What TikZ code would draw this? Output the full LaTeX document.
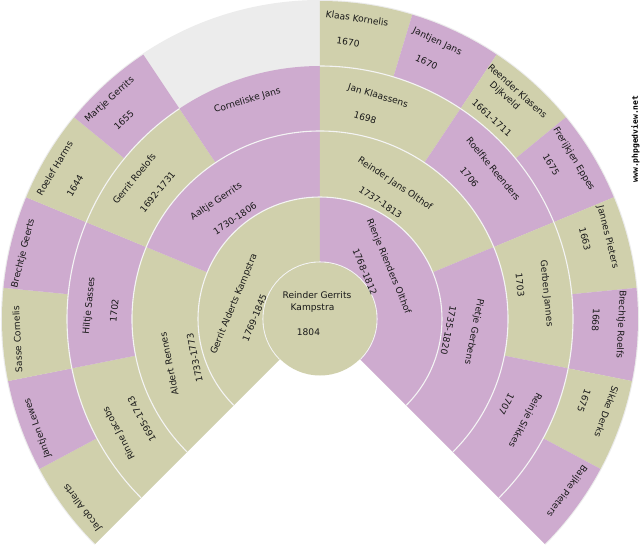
\documentclass[tikz,border=0pt]{standalone}
\usepackage{fontspec}
\setmainfont{DejaVu Sans}
\newfontfamily\sitefont{DejaVu Sans Mono}[Scale=1]
\definecolor{male}{HTML}{D0D0AC}
\definecolor{female}{HTML}{CEABCF}
\definecolor{blank}{HTML}{ECECEC}
\definecolor{seam}{HTML}{F4F4F4}
\tikzset{
  lbl/.style={inner sep=0pt,text height=6.5pt,text depth=1.5pt,anchor=center,font=\fontsize{9.1}{10}\selectfont,text=black!90},
  sitelbl/.style={inner sep=0pt,anchor=center,rotate=90,font=\sitefont\bfseries\fontsize{8}{9}\selectfont,text=black},
  seamline/.style={draw=seam,line width=1.1pt,fill=none}
}
\newcommand{\sect}[5]{\fill[#5] (#1:#3pt) arc[start angle=#1,end angle=#2,radius=#3pt] -- (#2:#4pt) arc[start angle=#2,end angle=#1,radius=#4pt] -- cycle;}
% id, cell angle, radial, tangential, text
\newcommand{\txt}[5]{\node[lbl,rotate=#2-90] (#1) at ([shift={(#2:#3pt)}]#2-90:#4pt) {#5};}
\newcommand{\seam}[3]{\draw[seamline] (#1:#3pt) arc[start angle=#1,end angle=#2,radius=#3pt];}
\begin{document}
\begin{tikzpicture}
\useasboundingbox (-320pt,-231pt) rectangle (320pt,319pt);
\fill[white] (-320pt,-231pt) rectangle (320pt,319pt);
% grey backing
\sect{-45}{225}{0}{319}{blank}
% generation 4
\sect{225}{208.125}{253}{318}{male}
\sect{208.125}{191.25}{253}{318}{female}
\sect{191.25}{174.375}{253}{318}{male}
\sect{174.375}{157.5}{253}{318}{female}
\sect{157.5}{140.625}{253}{318}{male}
\sect{140.625}{123.75}{253}{318}{female}
\sect{90}{73.125}{253}{318}{male}
\sect{73.125}{56.25}{253}{318}{female}
\sect{56.25}{39.375}{253}{318}{male}
\sect{39.375}{22.5}{253}{318}{female}
\sect{22.5}{5.625}{253}{318}{male}
\sect{5.625}{-11.25}{253}{318}{female}
\sect{-11.25}{-28.125}{253}{318}{male}
\sect{-28.125}{-45}{253}{318}{female}
% generation 3
\sect{225}{191.25}{188}{253}{male}
\sect{191.25}{157.5}{188}{253}{female}
\sect{157.5}{123.75}{188}{253}{male}
\sect{123.75}{90}{188}{253}{female}
\sect{90}{56.25}{188}{253}{male}
\sect{56.25}{22.5}{188}{253}{female}
\sect{22.5}{-11.25}{188}{253}{male}
\sect{-11.25}{-45}{188}{253}{female}
% generation 2
\sect{225}{157.5}{122}{188}{male}
\sect{157.5}{90}{122}{188}{female}
\sect{90}{22.5}{122}{188}{male}
\sect{22.5}{-45}{122}{188}{female}
% generation 1
\sect{225}{90}{56}{122}{male}
\sect{90}{-45}{56}{122}{female}
% seams
\seam{-45}{225}{57}
\seam{-45}{225}{122}
\seam{-45}{225}{188}
\seam{-45}{90}{253}
\seam{123.75}{225}{253}
% centre
\fill[male] (0pt,0pt) circle[radius=56.5pt];
% centre text
\node[lbl] (p1a) at (-3pt,23pt) {Reinder Gerrits};
\node[lbl] (p1b) at (-7.5pt,11pt) {Kampstra};
\node[lbl] (p1c) at (-11.5pt,-14pt) {1804};
% gen 1
\txt{f}{157.5}{85}{-19}{Gerrit Alderts Kampstra}
\txt{fd}{157.5}{60}{-24}{1769-1845}
\txt{m}{22.5}{83.4}{-22.3}{Rienje Rienders Olthof}
\txt{md}{22.5}{58.7}{-26.5}{1768-1812}
% gen 2
\txt{ff}{191.25}{155.9}{-14.6}{Aldert Rennes}
\txt{ffd}{191.25}{129.7}{-13.8}{1733-1773}
\txt{fm}{123.75}{155.2}{-21}{Aaltje Gerrits}
\txt{fmd}{123.75}{130}{-14.9}{1730-1806}
\txt{mf}{56.25}{154}{-12.7}{Reinder Jans Olthof}
\txt{mfd}{56.25}{130}{-14.6}{1737-1813}
\txt{mm}{-11.25}{153.4}{-17.5}{Pietje Gerbens}
\txt{mmd}{-11.25}{127.5}{-14.1}{1735-1820}
% gen 3
\txt{a1}{208.125}{230.9}{-6.2}{Rinne Jacobs}
\txt{a1d}{208.125}{203.6}{-4.3}{1695-1743}
\txt{a2}{174.375}{230.9}{-9.4}{Hiltje Sasses}
\txt{a2d}{174.375}{204.8}{-11.8}{1702}
\txt{a3}{140.625}{231.8}{-9.4}{Gerrit Roelofs}
\txt{a3d}{140.625}{205.3}{-4.9}{1692-1731}
\txt{a4}{106.875}{230.1}{-6}{Corneliske Jans}
\txt{a5}{73.125}{230}{-9.2}{Jan Klaassens}
\txt{a5d}{73.125}{205}{-15.3}{1698}
\txt{a6}{39.375}{228.5}{-5.9}{Roelfke Reenders}
\txt{a6d}{39.375}{204.7}{-15}{1706}
\txt{a7}{5.625}{227.7}{-3.3}{Gerben Jannes}
\txt{a7d}{5.625}{201.6}{-14.3}{1703}
\txt{a8}{-28.125}{228.4}{-7.5}{Reinje Sikkes}
\txt{a8d}{-28.125}{203.6}{-13.1}{1707}
% gen 4
\txt{b1}{216.5625}{303}{-9.8}{Jacob Allerts}
\txt{b2}{199.6875}{302.6}{-7.7}{Jantjen Lewes}
\txt{b3}{182.8125}{302.4}{-5.4}{Sasse Cornelis}
\txt{b4}{165.9375}{303.8}{-8.4}{Brechtje Geerts}
\txt{b5}{149.0625}{304.2}{-7}{Roelef Harms}
\txt{b5d}{149.0625}{277.8}{-11.7}{1644}
\txt{b6}{132.1875}{303.6}{-8.7}{Martje Gerrits}
\txt{b6d}{132.1875}{278.3}{-11.7}{1655}
\txt{b9}{81.5625}{302}{-7.4}{Klaas Kornelis}
\txt{b9d}{81.5625}{277}{-12.8}{1670}
\txt{b10}{64.6875}{300.7}{-12.6}{Jantjen Jans}
\txt{b10d}{64.6875}{276.7}{-13.5}{1670}
\txt{b11}{47.8125}{300.9}{-6.6}{Reender Klasens}
\txt{b11b}{47.8125}{289}{-13}{Dijkveld}
\txt{b11d}{47.8125}{263.6}{-7.6}{1661-1711}
\txt{b12}{30.9375}{300}{-7}{Frerijkjen Eppes}
\txt{b12d}{30.9375}{277}{-13.6}{1675}
\txt{b13}{14.0625}{299}{-9.6}{Jannes Pieters}
\txt{b13d}{14.0625}{275.7}{-13.2}{1663}
\txt{b14}{-2.8125}{300.6}{-9.5}{Brechtje Roelfs}
\txt{b14d}{-2.8125}{274.7}{-12.5}{1668}
\txt{b15}{-19.6875}{300}{-9.4}{Sikke Derks}
\txt{b15d}{-19.6875}{275.3}{-12}{1675}
\txt{b16}{-36.5625}{300.5}{-9}{Baijke Pieters}
\node[sitelbl] (site) at (315.5pt,180pt) {www.phpgedview.net};
\end{tikzpicture}
\end{document}
